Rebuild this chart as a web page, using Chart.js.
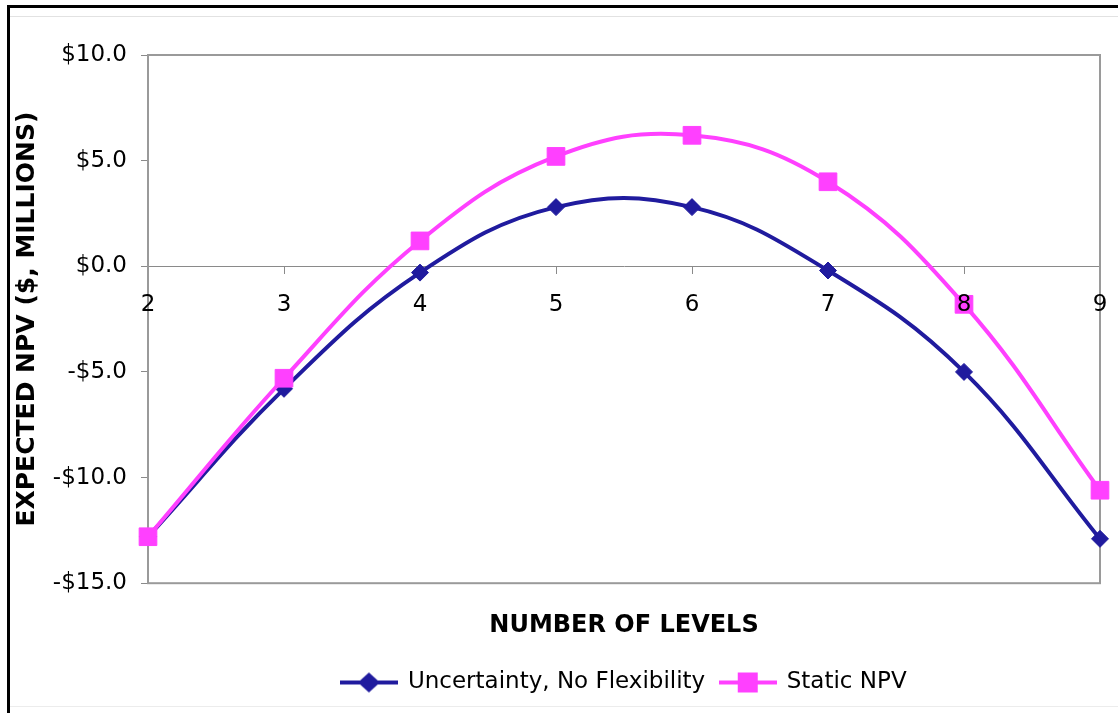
<!DOCTYPE html>
<html>
<head>
<meta charset="utf-8">
<title>Expected NPV vs number of levels</title>
<script src="https://cdn.jsdelivr.net/npm/chart.js@4.4.1/dist/chart.umd.min.js"></script>
<style>
  html, body { margin: 0; padding: 0; background: #fff; }
  #wrap { position: relative; width: 1118px; height: 713px; overflow: hidden; }
  #npvChart { position: absolute; left: 0; top: 0; }
  .rule { position: absolute; }
</style>
</head>
<body>
<div id="wrap">
  <canvas id="npvChart" width="1118" height="713"></canvas>
  <div class="rule" style="left:7px;top:5px;width:1111px;height:3px;background:#000"></div>
  <div class="rule" style="left:7px;top:5px;width:3px;height:708px;background:#000"></div>
  <div class="rule" style="left:10px;top:16px;width:1108px;height:1px;background:#e2e2e2"></div>
  <div class="rule" style="left:10px;top:706px;width:1108px;height:1px;background:#ececec"></div>
</div>
<script>
// data
const levels = ['2', '3', '4', '5', '6', '7', '8', '9'];
const uncertaintyNoFlex = [-12.8, -5.8, -0.3, 2.8, 2.8, -0.2, -5.0, -12.9];
const staticNpv = [-12.8, -5.3, 1.2, 5.2, 6.2, 4.0, -1.8, -10.6];
const yMin = -15, yMax = 10, yStep = 5;

const BLUE = '#201b9e';
const PINK = '#ff40ff';
const FONT = '"DejaVu Sans", Verdana, sans-serif';

/* legend icons: line with the marker in the middle */
const makeIcon = (color, shape) => {
	const c = document.createElement('canvas');
	c.width = 58;
	c.height = 22;
	const g = c.getContext('2d');
	g.strokeStyle = color;
	g.fillStyle = color;
	g.lineWidth = 4;
	g.beginPath();
	g.moveTo(0, 11);
	g.lineTo(58, 11);
	g.stroke();
	if (shape == 'diamond') {
		g.beginPath();
		g.moveTo(18, 11);
		g.lineTo(29, 1);
		g.lineTo(40, 11);
		g.lineTo(29, 21);
		g.closePath();
		g.fill();
	} else {
		g.fillRect(19, 1, 20, 20);
	}
	return c;
};
const icons = [makeIcon(BLUE, 'diamond'), makeIcon(PINK, 'square')];

/* grey frame round the plot area */
const plotFrame = {
	id: 'plotFrame',
	beforeDatasetsDraw(chart) {
		const a = chart.chartArea;
		const ctx = chart.ctx;
		ctx.save();
		ctx.strokeStyle = '#9a9a9a';
		ctx.lineWidth = 2;
		ctx.strokeRect(a.left, a.top, a.right - a.left, a.bottom - a.top);
		ctx.restore();
	}
};

const money = v => (v < 0 ? '-$' : '$') + Math.abs(v).toFixed(1);

const ctx = document.getElementById('npvChart').getContext('2d');
const npvChart = new Chart(ctx, {
	type: 'line',
	data: {
		labels: levels,
		datasets: [{
			label: 'Uncertainty, No Flexibility',
			data: uncertaintyNoFlex,
			borderColor: BLUE,
			backgroundColor: BLUE,
			borderWidth: 4,
			tension: 0.4,
			pointStyle: 'rectRot',
			pointRadius: 8.5,
			pointBorderWidth: 1,
			order: 1
		}, {
			label: 'Static NPV',
			data: staticNpv,
			borderColor: PINK,
			backgroundColor: PINK,
			borderWidth: 4,
			tension: 0.4,
			pointStyle: 'rect',
			pointRadius: 12.5,
			pointBorderWidth: 1,
			order: 0
		}]
	},
	options: {
		responsive: false,
		animation: false,
		events: [],
		layout: { padding: { left: 8, top: 55, right: 18, bottom: 9 } },
		scales: {
			x: {
				position: { y: 0 },
				afterFit: s => { s.paddingLeft = 0; s.paddingRight = 0; },
				grid: { drawOnChartArea: false, tickLength: 7, color: '#8a8a8a' },
				border: { color: '#8a8a8a', width: 1 },
				ticks: { z: 1, color: '#000', padding: 18, font: { family: FONT, size: 23 }, maxRotation: 0 }
			},
			y: {
				min: yMin,
				max: yMax,
				afterFit: s => { s.width = 140; },
				grid: { drawOnChartArea: false, tickLength: 7, color: '#8a8a8a' },
				border: { color: '#9a9a9a', width: 2 },
				ticks: { stepSize: yStep, color: '#000', padding: 14, font: { family: FONT, size: 23 }, callback: money },
				title: {
					display: true,
					text: 'EXPECTED NPV ($, MILLIONS)',
					color: '#000',
					padding: { top: 4, bottom: 4 },
					font: { family: FONT, size: 25, weight: 'bold' }
				}
			}
		},
		plugins: {
			tooltip: { enabled: false },
			title: {
				display: true,
				text: 'NUMBER OF LEVELS',
				position: 'bottom',
				fullSize: false,
				weight: 500,
				color: '#000',
				padding: { top: 28, bottom: 16 },
				font: { family: FONT, size: 24, weight: 'bold' }
			},
			legend: {
				position: 'bottom',
				fullSize: false,
				labels: {
					usePointStyle: true,
					pointStyleWidth: 55,
					padding: 15,
					color: '#000',
					font: { family: FONT, size: 23 },
					sort: (a, b) => a.datasetIndex - b.datasetIndex,
					generateLabels: chart => {
						const items = Chart.defaults.plugins.legend.labels.generateLabels(chart);
						items.forEach(it => { it.pointStyle = icons[it.datasetIndex]; });
						return items;
					}
				}
			}
		}
	},
	plugins: [plotFrame]
});
</script>
</body>
</html>
